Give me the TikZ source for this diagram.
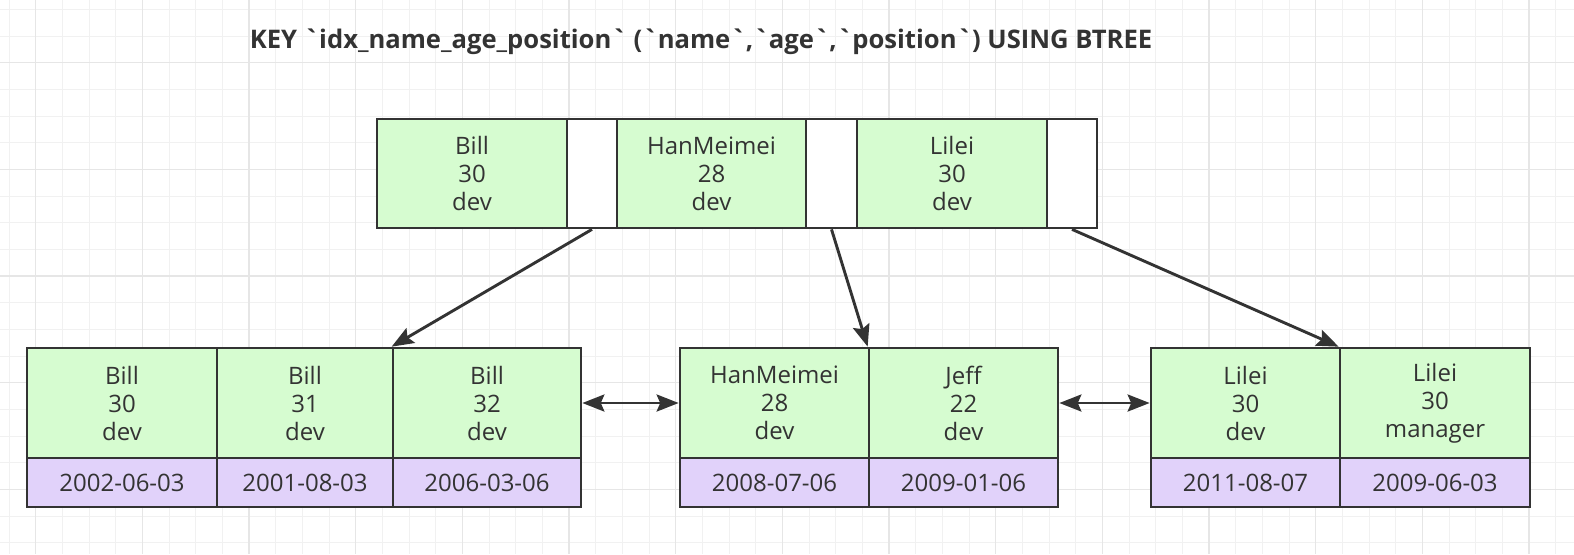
\documentclass[tikz,border=0pt]{standalone}
\usepackage{fontspec}
\setmainfont{Open Sans}
\newfontfamily\titlefont{Open Sans}[Ligatures=ResetAll]
\usetikzlibrary{arrows.meta}
\definecolor{gridminor}{HTML}{F1F1F1}
\definecolor{gridmajor}{HTML}{E6E6E6}
\definecolor{edge}{HTML}{333333}
\definecolor{txt}{HTML}{333333}
\definecolor{keyfill}{HTML}{D6FCD0}
\definecolor{datefill}{HTML}{E1D2FA}
\tikzset{
  cell/.style={draw=edge, line width=1.35pt, rectangle, inner sep=0pt, align=center,
    text=txt, font=\fontsize{12}{14}\selectfont, minimum height=55pt},
  keycell/.style={cell, fill=keyfill},
  ptrcell/.style={cell, fill=white},
  datecell/.style={cell, fill=datefill, minimum height=24.5pt},
  tip/.tip={Stealth[length=11pt,width=8.5pt,inset=1.8pt]},
  link/.style={draw=edge, line width=1.45pt, -tip},
  dlink/.style={draw=edge, line width=1.45pt, tip-tip},
}
\begin{document}
\begin{tikzpicture}[x=0.5pt,y=-0.5pt]
\useasboundingbox (0,0) rectangle (1574,554);
\fill[white] (0,0) rectangle (1574,554);
% grid
\foreach \i in {0,...,59} \draw[gridminor, line width=0.5pt] ({9+\i*26.667},0) -- ({9+\i*26.667},554);
\foreach \j in {0,...,21} \draw[gridminor, line width=0.5pt] (0,{9.5+\j*26.667}) -- (1574,{9.5+\j*26.667});
\foreach \i in {0,...,14} \draw[gridmajor, line width=0.75pt] ({35.7+\i*106.667},0) -- ({35.7+\i*106.667},554);
\foreach \j in {0,...,4} \draw[gridmajor, line width=0.75pt] (0,{62.7+\j*106.667}) -- (1574,{62.7+\j*106.667});

% title
\node[text=txt, font=\titlefont\fontsize{12.8}{15}\selectfont\bfseries, inner sep=0pt] (title) at (701,42)
  {KEY `idx\_name\_age\_position` (`name`,`age`,`position`) USING BTREE};

% top node
\node[keycell, minimum width=95pt, minimum height=54.5pt] (t1) at (472,173.5) {Bill\\30\\dev};
\node[ptrcell, minimum width=25pt, minimum height=54.5pt] (w1) at (592,173.5) {};
\node[keycell, minimum width=94.5pt, minimum height=54.5pt] (t2) at (711.5,173.5) {HanMeimei\\28\\dev};
\node[ptrcell, minimum width=25.5pt, minimum height=54.5pt] (w2) at (831.5,173.5) {};
\node[keycell, minimum width=95pt, minimum height=54.5pt] (t3) at (952,173.5) {Lilei\\30\\dev};
\node[ptrcell, minimum width=25pt, minimum height=54.5pt] (w3) at (1072,173.5) {};

% leaf 1
\node[keycell, minimum width=95pt] (b11) at (122,403) {Bill\\30\\dev};
\node[keycell, minimum width=88pt] (b12) at (305,403) {Bill\\31\\dev};
\node[keycell, minimum width=94pt] (b13) at (487,403) {Bill\\32\\dev};
\node[datecell, minimum width=95pt] (d11) at (122,482.5) {2002-06-03};
\node[datecell, minimum width=88pt] (d12) at (305,482.5) {2001-08-03};
\node[datecell, minimum width=94pt] (d13) at (487,482.5) {2006-03-06};

% leaf 2
\node[keycell, minimum width=94.5pt] (b21) at (774.5,403) {HanMeimei\\28\\dev};
\node[keycell, minimum width=94.5pt] (b22) at (963.5,403) {Jeff\\22\\dev};
\node[datecell, minimum width=94.5pt] (d21) at (774.5,482.5) {2008-07-06};
\node[datecell, minimum width=94.5pt] (d22) at (963.5,482.5) {2009-01-06};

% leaf 3
\node[keycell, minimum width=94.5pt] (b31) at (1245.5,403) {Lilei\\30\\dev};
\node[keycell, minimum width=95pt] (b32) at (1435,403) {Lilei\\30\\manager};
\node[datecell, minimum width=94.5pt] (d31) at (1245.5,482.5) {2011-08-07};
\node[datecell, minimum width=95pt] (d32) at (1435,482.5) {2009-06-03};

% connectors
\draw[link] (w1.south) -- (b13.north west);
\draw[link] (w2.south) -- (b22.north west);
\draw[link] (w3.south) -- (b32.north west);
\draw[dlink] (b13.east) -- (b21.west);
\draw[dlink] (b22.east) -- (b31.west);
\end{tikzpicture}
\end{document}
